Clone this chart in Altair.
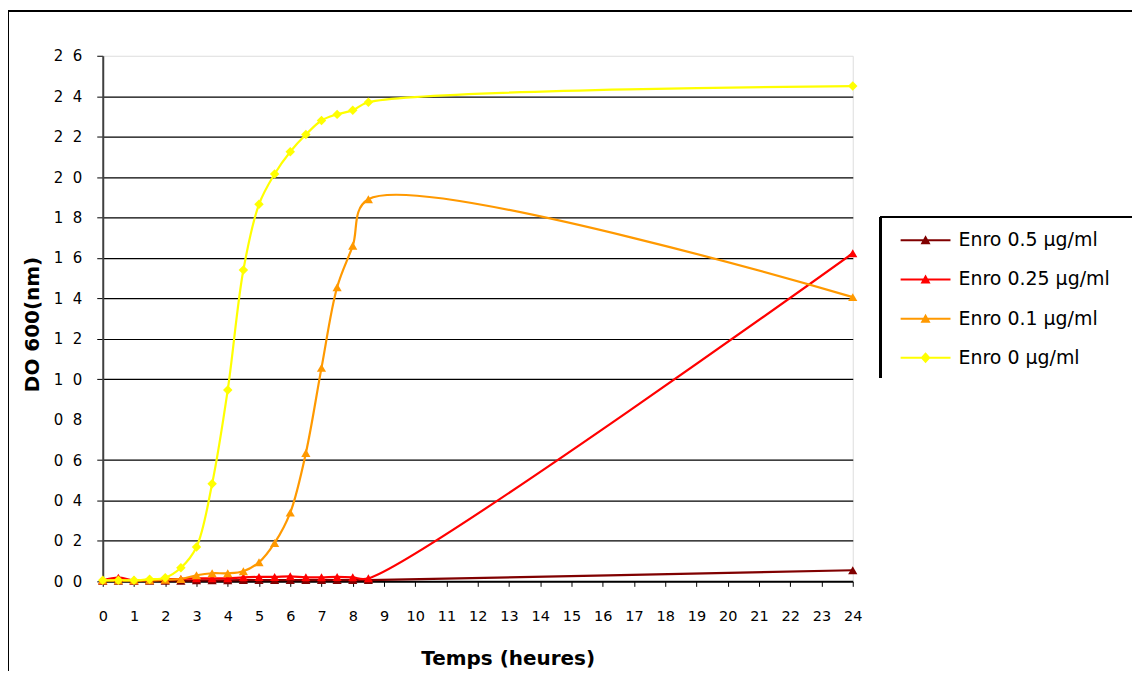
import altair as alt
import pandas as pd

# ---- data ----
hours = [0, 0.5, 1, 1.5, 2, 2.5, 3, 3.5, 4, 4.5, 5, 5.5, 6, 6.5, 7, 7.5, 8, 8.5, 24]
enro_05 = [0.003, 0.003, 0.003, 0.003, 0.003, 0.003, 0.005, 0.005, 0.005, 0.006,
           0.006, 0.006, 0.006, 0.006, 0.006, 0.006, 0.006, 0.006, 0.055]
enro_025 = [0.005, 0.018, 0.005, 0.008, 0.01, 0.012, 0.015, 0.015, 0.015, 0.02,
            0.022, 0.022, 0.025, 0.02, 0.02, 0.022, 0.02, 0.015, 1.623]
enro_01 = [0.005, 0.005, 0.005, 0.005, 0.008, 0.012, 0.03, 0.04, 0.04, 0.05,
           0.094, 0.19, 0.34, 0.635, 1.056, 1.455, 1.66, 1.89, 1.406]
enro_0 = [0.005, 0.005, 0.005, 0.01, 0.018, 0.067, 0.17, 0.483, 0.947, 1.54,
          1.865, 2.015, 2.125, 2.21, 2.28, 2.31, 2.33, 2.37, 2.45]

series = ["Enro 0.5 µg/ml", "Enro 0.25 µg/ml", "Enro 0.1 µg/ml", "Enro 0 µg/ml"]
colors = ["#800000", "#FF0000", "#FF9900", "#FFFF00"]
x_ticks = list(range(0, 25))
y_ticks = [0, 0.2, 0.4, 0.6, 0.8, 1.0, 1.2, 1.4, 1.6, 1.8, 2.0, 2.2, 2.4, 2.6]

values = [enro_05, enro_025, enro_01, enro_0]
rows = []
for i, (name, col, vals) in enumerate(zip(series, colors, values)):
    for h, v in zip(hours, vals):
        rows.append({"h": h, "do": v, "serie": name, "col": col, "k": i})
df = pd.DataFrame(rows)

# legend symbols: line + marker
tri_path = "M-2.5,-0.1H2.5V0.1H-2.5Z M0,-0.5L0.5,0.4L-0.5,0.4Z"
dia_path = "M-2.5,-0.1H2.5V0.1H-2.5Z M0,-0.55L0.5,0L0,0.55L-0.5,0Z"
legend_shapes = [tri_path, tri_path, tri_path, dia_path]

FONT = "DejaVu Sans"

x_enc = alt.X("h:Q", scale=alt.Scale(domain=[0, 24], nice=False),
              axis=alt.Axis(values=x_ticks, title="Temps (heures)", grid=False,
                            format="d", labelFont=FONT, labelFontSize=14.5,
                            labelColor="black", labelPadding=23, labelOverlap=False,
                            labelFlush=False, labelBound=False,
                            tickSize=5, tickColor="black", tickWidth=1,
                            domainColor="black", domainWidth=2,
                            titleFont=FONT, titleFontSize=20, titleFontWeight="bold",
                            titleColor="black", titleX=406, titleY=77.5,
                            titleAlign="center", titleBaseline="middle",
                            titleAnchor="start"))
y_enc = alt.Y("do:Q", scale=alt.Scale(domain=[0, 2.6], nice=False, zero=True),
              axis=alt.Axis(values=y_ticks, title="DO 600(nm)",
                            labelExpr="replace(format(datum.value,'.1f'),'.','\u2007')",
                            labelFont=FONT, labelFontSize=15, labelColor="black",
                            labelPadding=15, tickSize=6, tickWidth=1, labelOverlap=False,
                            tickColor={"condition": {"test": "abs(datum.value-0.8)<0.01", "value": "transparent"}, "value": "black"},
                            grid=True, gridWidth=1.2,
                            gridColor={"condition": {"test": "abs(datum.value-0.8)<0.01 || datum.value>2.55 || datum.value<0.05", "value": "transparent"}, "value": "black"},
                            domainColor="#404040", domainWidth=2,
                            titleFont=FONT, titleFontSize=20, titleFontWeight="bold",
                            titleColor="black", titleAngle=270, titleX=-70, titleY=269,
                            titleAlign="center", titleBaseline="middle",
                            titleAnchor="start"))

base = alt.Chart(df)

lines = base.mark_line(interpolate="catmull-rom", strokeWidth=2.2).encode(
    x=x_enc, y=y_enc,
    stroke=alt.Stroke("col:N", scale=None),
    detail="k:O",
)

tris = base.transform_filter(alt.datum.k < 3).mark_point(
    shape="triangle-up", filled=True, size=85, opacity=1).encode(
    x=x_enc, y=y_enc,
    fill=alt.Fill("col:N", scale=None),
)

dias = base.transform_filter(alt.datum.k == 3).mark_point(
    shape="diamond", filled=True, size=90, opacity=1, color=colors[3]).encode(
    x=x_enc, y=y_enc,
)

legend_layer = base.transform_filter("false").mark_point(filled=True, opacity=1).encode(
    x=x_enc, y=y_enc,
    color=alt.Color("serie:N", scale=alt.Scale(domain=series, range=colors),
                    legend=alt.Legend(orient="none", legendX=815, legendY=175, title=None,
                                      symbolSize=400, symbolStrokeWidth=0,
                                      labelFont=FONT, labelFontSize=19, labelColor="black",
                                      labelOffset=23, rowPadding=19.3, padding=0)),
    shape=alt.Shape("serie:N", scale=alt.Scale(domain=series, range=legend_shapes)),
)

# legend box (top and left edges) and outer frame
box_top = base.mark_rule(color="black", strokeWidth=1.5).encode(
    x=alt.value(780), x2=alt.value(1100), y=alt.value(162))
box_left = base.mark_rule(color="black", strokeWidth=1.5).encode(
    x=alt.value(780), y=alt.value(162), y2=alt.value(323))
frame_top = base.mark_rule(color="black", strokeWidth=1.5).encode(
    x=alt.value(-95), x2=alt.value(1100), y=alt.value(-45))
frame_left = base.mark_rule(color="black", strokeWidth=1.5).encode(
    x=alt.value(-95), y=alt.value(-45), y2=alt.value(700))

chart = alt.layer(frame_top, frame_left, box_top, box_left,
                  lines, tris, dias, legend_layer).properties(
    width=752, height=527,
    autosize=alt.AutoSizeParams(type="none"),
    padding={"left": 95, "top": 47, "right": 280, "bottom": 89},
).configure_view(stroke="#808080", strokeWidth=2).configure_axis(
    labelOverlap=False).configure(background="white")

chart.save("out.html", embed_options={"renderer": "svg", "actions": False})
